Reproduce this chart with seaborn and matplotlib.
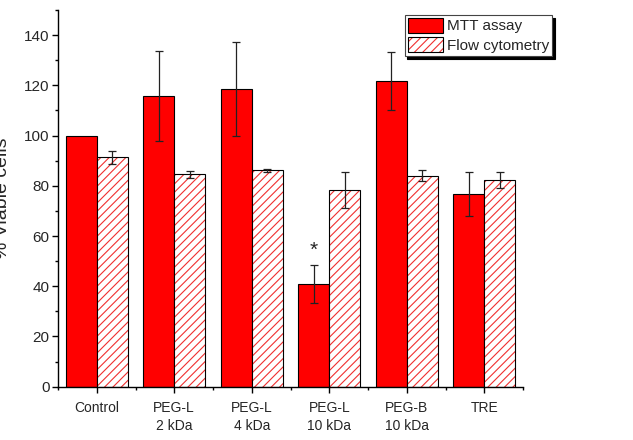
import pandas as pd
import matplotlib
matplotlib.use('Agg')
import matplotlib.pyplot as plt
import matplotlib.colors as mcolors
from matplotlib.ticker import MultipleLocator
import seaborn as sns

sns.set_theme(style='ticks')
plt.rcParams['font.family'] = ['Liberation Sans', 'DejaVu Sans']
plt.rcParams['hatch.linewidth'] = 0.8

# values
groups = ['Control', 'PEG-L\n2 kDa', 'PEG-L\n4 kDa', 'PEG-L\n10 kDa', 'PEG-B\n10 kDa', 'TRE']
mtt = [100.0, 115.8, 118.6, 40.8, 121.7, 76.8]
mtt_err = [0.0, 18.0, 18.6, 7.5, 11.5, 8.8]
flow = [91.3, 84.5, 86.1, 78.3, 84.0, 82.3]
flow_err = [2.7, 1.3, 0.5, 7.3, 2.2, 3.3]
assays = ['MTT assay', 'Flow cytometry']
star_group = 'PEG-L\n10 kDa'

df = pd.DataFrame({
    'group': groups * 2,
    'assay': [assays[0]] * len(groups) + [assays[1]] * len(groups),
    'value': mtt + flow,
    'err': mtt_err + flow_err,
})

fig = plt.figure(figsize=(6.33, 4.4), dpi=100)
ax = fig.add_axes([58 / 633, 1 - 386.7 / 440, 465 / 633, 376.7 / 440])

sns.barplot(data=df, x='group', y='value', hue='assay', hue_order=assays,
            palette=['#ff0000', 'white'], saturation=1, errorbar=None,
            edgecolor='black', linewidth=0.8, width=0.8, legend=False, ax=ax)

red = mcolors.to_rgba('#f03030')
for bar in ax.containers[1]:
    bar.set_hatch('////')
    if hasattr(bar, 'set_hatchcolor'):
        bar.set_hatchcolor(red)
    else:
        bar._hatch_color = red
    bar.stale = True

# error bars on top of bar centres
for cont, (name, sub) in zip(ax.containers[:2], df.groupby('assay', sort=False)):
    xs = [b.get_x() + b.get_width() / 2 for b in cont]
    ys = [b.get_height() for b in cont]
    errs = sub['err'].tolist()
    keep = [i for i, e in enumerate(errs) if e > 0]
    ax.errorbar([xs[i] for i in keep], [ys[i] for i in keep],
                yerr=[errs[i] for i in keep], fmt='none', ecolor='#222222',
                elinewidth=0.9, capsize=3, capthick=0.9, zorder=5)

# significance star
i_star = groups.index(star_group)
b = ax.containers[0][i_star]
ax.annotate('*', (b.get_x() + b.get_width() / 2, mtt[i_star] + mtt_err[i_star]),
            xytext=(0, 11), textcoords='offset points', ha='center', va='center',
            fontsize=15)

ax.set_xlim(-0.5, len(groups) - 0.5)
ax.set_ylim(0, 150)
ax.yaxis.set_major_locator(MultipleLocator(20))
ax.yaxis.set_minor_locator(MultipleLocator(10))
ax.xaxis.set_minor_locator(MultipleLocator(1, offset=0.5))
ax.set_yticks(range(0, 141, 20))
ax.tick_params(axis='both', which='major', direction='out', length=4, width=1, color='black')
ax.tick_params(axis='both', which='minor', direction='out', length=2.5, width=1, color='black')
ax.tick_params(axis='y', labelsize=11, pad=2)
ax.tick_params(axis='x', labelsize=10, pad=6.5)
for lab in ax.get_xticklabels():
    lab.set_linespacing(1.35)
sns.despine(ax=ax)
for s in ['left', 'bottom']:
    ax.spines[s].set_color('black')
    ax.spines[s].set_linewidth(1)

ax.set_xlabel('')
ax.set_ylabel('% Viable cells', fontsize=14)
ax.yaxis.set_label_coords(-0.1, 0.5)

leg = ax.legend(handles=ax.containers[:2], labels=assays, loc='upper right',
                bbox_to_anchor=(1.062, 0.987), fontsize=11, frameon=True,
                fancybox=False, shadow={'color': 'black', 'alpha': 1},
                edgecolor='#444444', borderpad=0.2, handlelength=2.3,
                handleheight=1.1, handletextpad=0.25, labelspacing=0.25,
                borderaxespad=0)
leg.get_frame().set_linewidth(0.8)

fig.savefig('out.png', dpi=100)
